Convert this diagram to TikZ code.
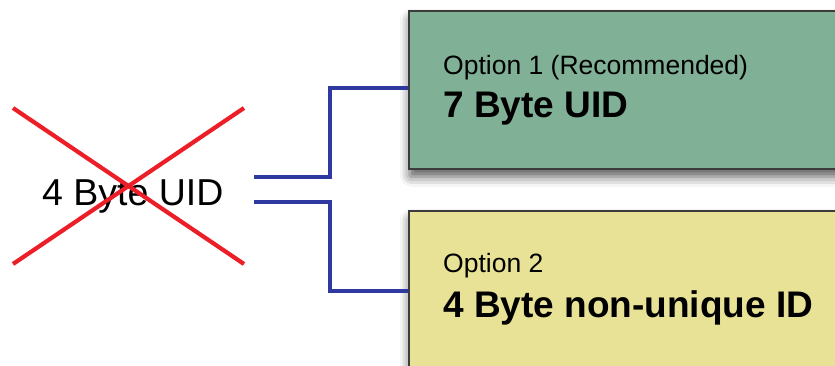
\documentclass[tikz,border=0pt]{standalone}
\usepackage{fontspec}
\setmainfont{Liberation Sans}
\usetikzlibrary{shadows.blur}
\definecolor{boxgreen}{RGB}{128,176,150}
\definecolor{boxyellow}{RGB}{232,226,150}
\definecolor{connblue}{RGB}{46,58,160}
\definecolor{crossred}{RGB}{236,30,40}
\definecolor{boxedge}{RGB}{60,60,60}
\tikzset{
  optbox/.style={draw=boxedge, line width=1.5pt, anchor=north west, minimum width=450pt, minimum height=158pt, inner sep=0pt,
    blur shadow={shadow xshift=1pt, shadow yshift=-8pt, shadow blur radius=10pt, shadow blur extra rounding=2pt, shadow opacity=65}},
  small/.style={anchor=base west, inner sep=0pt, font=\fontsize{26.5}{30}\selectfont},
  big/.style={anchor=base west, inner sep=0pt, font=\fontsize{37}{42}\selectfont\bfseries},
  conn/.style={draw=connblue, line width=3.6pt},
  cross/.style={draw=crossred, line width=4.2pt}
}
\begin{document}
\begin{tikzpicture}[x=1pt,y=-1pt]
\useasboundingbox (0,0) rectangle (835,365);
\clip (0,0) rectangle (835,365);
\node[optbox, fill=boxgreen] (green) at (408,10) {};
\node[optbox, fill=boxyellow] (yellow) at (408,210) {};
\node[small] (o1) at (443,74) {Option 1 (Recommended)};
\node[big] (b1) at (443,117) {7 Byte UID};
\node[small] (o2) at (443,272) {Option 2};
\node[big] (b2) at (443,317) {4 Byte non-unique ID};
\node[anchor=base west, inner sep=0pt, font=\fontsize{37.5}{42}\selectfont] (uid) at (42,205) {4 Byte UID};
\coordinate (xa) at (13,108);
\coordinate (xb) at (244,264);
\coordinate (xc) at (13,264);
\coordinate (xd) at (244,108);
\draw[cross] (xa) -- (xb);
\draw[cross] (xc) -- (xd);
\coordinate (s1) at (254,177);
\coordinate (s2) at (254,202);
\coordinate (g1) at (408,88);
\coordinate (y1) at (408,291);
\draw[conn] (s1) -- ++(76,0) |- (g1);
\draw[conn] (s2) -- ++(76,0) |- (y1);
\end{tikzpicture}
\end{document}
